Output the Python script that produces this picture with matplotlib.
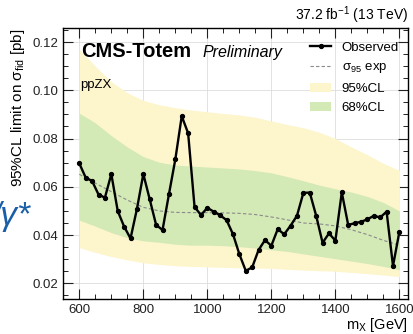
import matplotlib
matplotlib.use("Agg")
import matplotlib.pyplot as plt
from matplotlib.lines import Line2D
from matplotlib.patches import Patch
from matplotlib.ticker import MultipleLocator

plt.rcParams['font.family'] = ['Liberation Sans', 'DejaVu Sans']
plt.rcParams['mathtext.default'] = 'regular'

# observed limit, one point every 20 GeV
mass_obs = [600, 620, 640, 660, 680, 700, 720, 740, 760, 780,
            800, 820, 840, 860, 880, 900, 920, 940, 960, 980,
            1000, 1020, 1040, 1060, 1080, 1100, 1120, 1140, 1160, 1180,
            1200, 1220, 1240, 1260, 1280, 1300, 1320, 1340, 1360, 1380,
            1400, 1420, 1440, 1460, 1480, 1500, 1520, 1540, 1560, 1580, 1600]
observed = [0.0697, 0.0638, 0.0624, 0.0568, 0.0555, 0.0653, 0.0500, 0.0435, 0.0386, 0.0508,
            0.0653, 0.0548, 0.0442, 0.0421, 0.0569, 0.0714, 0.0893, 0.0822, 0.0517, 0.0483,
            0.0513, 0.0497, 0.0482, 0.0462, 0.0404, 0.0321, 0.0252, 0.0266, 0.0338, 0.0379,
            0.0356, 0.0425, 0.0403, 0.0439, 0.0480, 0.0575, 0.0576, 0.0480, 0.0368, 0.0407,
            0.0377, 0.0577, 0.0442, 0.0449, 0.0455, 0.0465, 0.0480, 0.0473, 0.0497, 0.0272, 0.0414]

# expected limit and bands
mass_exp = [600, 650, 700, 750, 800, 850, 900, 950, 1000, 1050, 1100,
            1150, 1200, 1250, 1300, 1350, 1400, 1450, 1500, 1550, 1600]
expected = [0.0652, 0.0615, 0.0580, 0.0545, 0.0515, 0.0500, 0.0494, 0.0493, 0.0493, 0.0492, 0.0490,
            0.0485, 0.0475, 0.0463, 0.0450, 0.0446, 0.0438, 0.0422, 0.0402, 0.0378, 0.0358]
band95_hi = [0.1170, 0.1100, 0.1035, 0.0990, 0.0958, 0.0940, 0.0928, 0.0918, 0.0911, 0.0904, 0.0898,
             0.0888, 0.0873, 0.0858, 0.0845, 0.0826, 0.0800, 0.0765, 0.0733, 0.0697, 0.0668]
band68_hi = [0.0905, 0.0865, 0.0812, 0.0765, 0.0725, 0.0702, 0.0690, 0.0686, 0.0682, 0.0678, 0.0674,
             0.0667, 0.0658, 0.0642, 0.0625, 0.0607, 0.0592, 0.0578, 0.0560, 0.0535, 0.0500]
band68_lo = [0.0462, 0.0437, 0.0410, 0.0389, 0.0376, 0.0370, 0.0362, 0.0358, 0.0358, 0.0356, 0.0352,
             0.0346, 0.0339, 0.0332, 0.0322, 0.0312, 0.0302, 0.0292, 0.0282, 0.0270, 0.0256]
band95_lo = [0.0348, 0.0328, 0.0311, 0.0297, 0.0285, 0.0278, 0.0273, 0.0270, 0.0268, 0.0266, 0.0264,
             0.0263, 0.0262, 0.0258, 0.0255, 0.0252, 0.0250, 0.0245, 0.0240, 0.0234, 0.0228]

yellow = '#fdf5cb'
green = '#d3e9b6'

fig = plt.figure(figsize=(4.13, 3.34), dpi=100)
ax = fig.add_axes([0.1525, 0.1048, 0.8355, 0.8112])

ax.fill_between(mass_exp, band95_lo, band95_hi, color=yellow, lw=0, zorder=1)
ax.fill_between(mass_exp, band68_lo, band68_hi, color=green, lw=0, zorder=2)
ax.plot(mass_exp, expected, color='#8a8a8a', ls='--', lw=0.8, dashes=(3, 2), zorder=3)
ax.plot(mass_obs, observed, color='black', lw=1.7, marker='o', ms=2.8, zorder=4)

ax.set_xlim(549, 1627)
ax.set_ylim(0.0135, 0.1258)
ax.xaxis.set_major_locator(MultipleLocator(200))
ax.xaxis.set_minor_locator(MultipleLocator(50))
ax.yaxis.set_major_locator(MultipleLocator(0.02))
ax.yaxis.set_minor_locator(MultipleLocator(0.005))
ax.yaxis.set_major_formatter(matplotlib.ticker.FormatStrFormatter('%.2f'))
ax.tick_params(which='both', direction='in', top=True, right=True, labelsize=9.5, colors='#222222')
ax.tick_params(which='major', length=7, width=0.8)
ax.tick_params(which='minor', length=3.5, width=0.7)
ax.grid(True, which='major', color='#dddddd', lw=0.6, zorder=0)
ax.set_axisbelow(True)
for sp in ax.spines.values():
    sp.set_linewidth(1.0)

ax.set_xlabel('m$_X$ [GeV]', fontsize=10.5, loc='right', labelpad=0)
ax.set_ylabel('95%CL limit on σ$_{fid}$ [pb]', fontsize=11, loc='top')
ax.yaxis.set_label_coords(-0.105, 1.0)

ax.text(0.052, 0.893, 'CMS-Totem', transform=ax.transAxes, fontsize=14.5, fontweight='bold')
ax.text(0.403, 0.893, 'Preliminary', transform=ax.transAxes, fontsize=11.5, style='italic')
ax.text(0.049, 0.779, 'ppZX', transform=ax.transAxes, fontsize=9.5)
ax.text(1.0, 1.028, '37.2 fb$^{-1}$ (13 TeV)', transform=ax.transAxes, ha='right', fontsize=10)

handles = [Line2D([], [], color='black', lw=1.7, marker='o', ms=2.8),
           Line2D([], [], color='#8a8a8a', ls='--', lw=0.8, dashes=(3, 2)),
           Patch(facecolor=yellow, edgecolor='none'),
           Patch(facecolor=green, edgecolor='none')]
labels = ['Observed', 'σ$_{95}$ exp', '95%CL', '68%CL']
ax.legend(handles, labels, loc='upper left', bbox_to_anchor=(0.716, 0.95), frameon=False,
          fontsize=9.5, handlelength=1.6, handletextpad=0.8, labelspacing=0.55,
          borderpad=0, borderaxespad=0)

# piece of the slide text cut off at the left edge
fig.text(-0.02, 0.325, '/γ*', ha='left', fontsize=24, color='#1b5ea8', style='italic')

fig.savefig('out.png', dpi=100)
